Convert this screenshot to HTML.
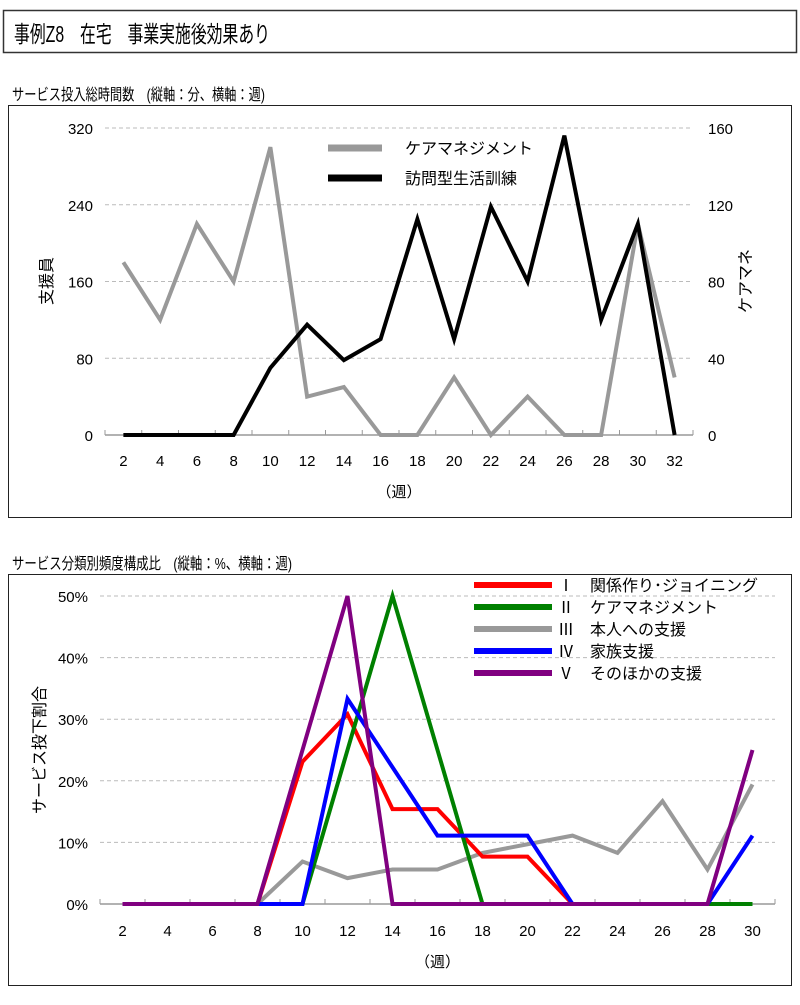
<!DOCTYPE html>
<html><head><meta charset="utf-8"><style>
html,body{margin:0;padding:0;background:#fff;}
svg text{font-family:"Liberation Sans","Noto Sans CJK JP",sans-serif;fill:#000;}
</style></head><body>
<svg id="s" width="800" height="1000" xmlns="http://www.w3.org/2000/svg">
<rect x="3.5" y="10.5" width="793" height="42" fill="none" stroke="#333" stroke-width="1.5"/>
<text x="14" y="42" font-size="23" textLength="256" lengthAdjust="spacingAndGlyphs">事例Z8　在宅　事業実施後効果あり</text>
<text x="12" y="100" font-size="16" textLength="253" lengthAdjust="spacingAndGlyphs">サービス投入総時間数　(縦軸：分、横軸：週)</text>
<rect x="8.5" y="105.5" width="783" height="412" fill="none" stroke="#222"/>
<text x="12" y="569" font-size="16" textLength="280" lengthAdjust="spacingAndGlyphs">サービス分類別頻度構成比　(縦軸：%、横軸：週)</text>
<rect x="8.5" y="574.5" width="783" height="411" fill="none" stroke="#222"/>
<g id="c1"></g><g id="c2"></g>
</svg>
<script>
// Chart 1 data
const weeks1 = [2,4,6,8,10,12,14,16,18,20,22,24,26,28,30,32];
const leftTicks = [0,80,160,240,320];
const rightTicks = [0,40,80,120,160];
const careMgmt = [90,60,110,80,150,20,25,0,0,30,0,20,0,0,110,30]; // right axis
const visitTraining = [0,0,0,0,70,115,78,100,225,100,238,160,312,120,220,0]; // left axis
// Chart 2 data
const weeks2 = [2,4,6,8,10,12,14,16,18,20,22,24,26,28,30];
const pctTicks = [0,10,20,30,40,50];
const s1 = [0,0,0,0,23.1,30.8,15.4,15.4,7.7,7.7,0,0,0,0,0];
const s2 = [0,0,0,0,0,25,50,25,0,0,0,0,0,0,0];
const s3 = [0,0,0,0,6.9,4.2,5.6,5.6,8.3,9.7,11.1,8.3,16.7,5.6,19.4];
const s4 = [0,0,0,0,0,33.3,22.2,11.1,11.1,11.1,0,0,0,0,11.1];
const s5 = [0,0,0,0,25,50,0,0,0,0,0,0,0,0,25];
const seriesNames = ["Ⅰ　関係作り･ジョイニング","Ⅱ　ケアマネジメント","Ⅲ　本人への支援","Ⅳ　家族支援","Ⅴ　そのほかの支援"];
const seriesColors = ["#ff0000","#008000","#999999","#0000ff","#800080"];

const NS="http://www.w3.org/2000/svg";
function mk(p,tag,attrs){const e=document.createElementNS(NS,tag);for(const k in attrs)e.setAttribute(k,attrs[k]);p.appendChild(e);return e;}

// ---- Chart 1
(function(){
const g=document.getElementById('c1');
const x0=105,x1=693,yB=435,yT=128;
const n=weeks1.length, step=(x1-x0)/n;
const xs=i=>x0+step*(i+0.5);
const yL=v=>yB-(v/320)*(yB-yT);
const yR=v=>yB-(v/160)*(yB-yT);
leftTicks.forEach((t,i)=>{
  const y=yL(t);
  if(t>0){const l=mk(g,'line',{x1:x0,x2:x1,y1:y,y2:y,stroke:'#bbb','stroke-dasharray':'4,3'});
  
  }
  const a=mk(g,'text',{x:93,y:y+6,'font-size':15,'text-anchor':'end'});a.textContent=t;
  
  
  const b=mk(g,'text',{x:708,y:y+6,'font-size':15});b.textContent=rightTicks[i];
  
  
});
const ax=mk(g,'line',{x1:x0,x2:x1,y1:yB,y2:yB,stroke:'#999','stroke-width':1.5});


for(let i=0;i<=n;i++){const t=mk(g,'line',{x1:x0+step*i,x2:x0+step*i,y1:yB-5,y2:yB,stroke:'#999'});

}
weeks1.forEach((w,i)=>{const t=mk(g,'text',{x:xs(i),y:yB+31,'font-size':15,'text-anchor':'middle'});t.textContent=w;

});
const xt=mk(g,'text',{x:x0+(x1-x0)/2,y:yB+62,'font-size':15,'text-anchor':'middle'});xt.textContent='（週）';


const yt=mk(g,'text',{x:0,y:0,'font-size':16,transform:'translate(52,281) rotate(-90)','text-anchor':'middle'});yt.textContent='支援員';


const yt2=mk(g,'text',{x:0,y:0,'font-size':16,transform:'translate(751,281) rotate(-90)','text-anchor':'middle'});yt2.textContent='ケアマネ';


const p1=mk(g,'polyline',{points:careMgmt.map((v,i)=>xs(i)+','+yR(v)).join(' '),fill:'none',stroke:'#999','stroke-width':4,'stroke-linejoin':'miter'});


const p2=mk(g,'polyline',{points:visitTraining.map((v,i)=>xs(i)+','+yL(v)).join(' '),fill:'none',stroke:'#000','stroke-width':4});


[['ケアマネジメント','#999',148],['訪問型生活訓練','#000',178]].forEach(([lab,c,y])=>{
 const e=mk(g,'g',{});
 
 
 mk(e,'line',{x1:328,x2:382,y1:y,y2:y,stroke:c,'stroke-width':7});
 const t=mk(e,'text',{x:405,y:y+6,'font-size':16});t.textContent=lab;
});
})();

// ---- Chart 2
(function(){
const g=document.getElementById('c2');
const x0=100,x1=775,yB=904,yT=596;
const n=weeks2.length, step=(x1-x0)/n;
const xs=i=>x0+step*(i+0.5);
const y=v=>yB-(v/50)*(yB-yT);
pctTicks.forEach(t=>{
  const yy=y(t);
  if(t>0){const l=mk(g,'line',{x1:x0,x2:x1,y1:yy,y2:yy,stroke:'#bbb','stroke-dasharray':'4,3'});
  
  }
  const a=mk(g,'text',{x:88,y:yy+6,'font-size':15,'text-anchor':'end'});a.textContent=t+'%';
  
  
});
const ax=mk(g,'line',{x1:x0,x2:x1,y1:yB,y2:yB,stroke:'#999','stroke-width':1.5});


for(let i=0;i<=n;i++){const t=mk(g,'line',{x1:x0+step*i,x2:x0+step*i,y1:yB-5,y2:yB,stroke:'#999'});

}
weeks2.forEach((w,i)=>{const t=mk(g,'text',{x:xs(i),y:yB+32,'font-size':15,'text-anchor':'middle'});t.textContent=w;

});
const xt=mk(g,'text',{x:x0+(x1-x0)/2,y:yB+63,'font-size':15,'text-anchor':'middle'});xt.textContent='（週）';


const yt=mk(g,'text',{x:0,y:0,'font-size':16,transform:'translate(45,750) rotate(-90)','text-anchor':'middle'});yt.textContent='サービス投下割合';


const all=[s1,s2,s3,s4,s5];
const order=[2,0,1,3,4];
order.forEach(k=>{
 const p=mk(g,'polyline',{points:all[k].map((v,i)=>xs(i)+','+y(v)).join(' '),fill:'none',stroke:seriesColors[k],'stroke-width':4});
 
 
});
seriesNames.forEach((lab,k)=>{
 const yy=585+k*22;
 const e=mk(g,'g',{});
 
 
 mk(e,'line',{x1:474,x2:552,y1:yy,y2:yy,stroke:seriesColors[k],'stroke-width':6});
 const t=mk(e,'text',{x:558,y:yy+6,'font-size':16});t.textContent=lab;
});
})();
</script>
</body></html>
